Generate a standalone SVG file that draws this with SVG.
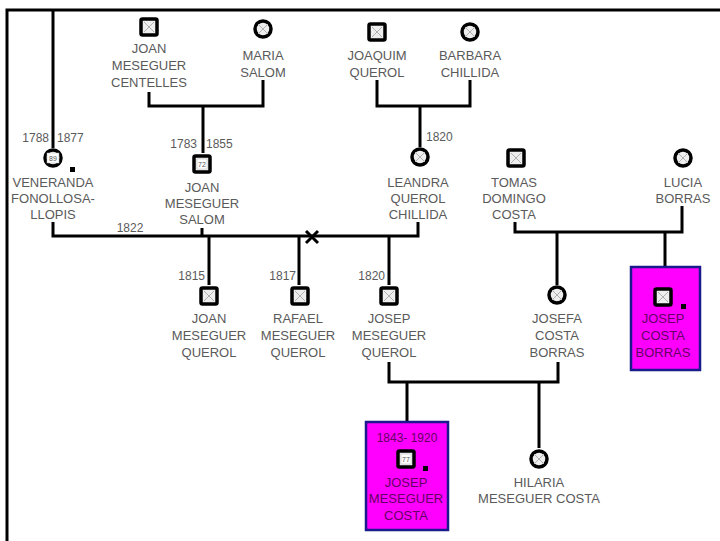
<svg xmlns="http://www.w3.org/2000/svg" width="720" height="541" viewBox="0 0 720 541">
<style>
.ln{stroke:#000;stroke-width:3;fill:none}
.sq{fill:#eee;stroke:#000;stroke-width:3.5}
.ci{fill:#eee;stroke:#000;stroke-width:3.5}
.x{stroke:#b0b0b0;stroke-width:1}
.t{font-family:"Liberation Sans",Arial,sans-serif;font-size:13px;fill:#5a5a5a;text-anchor:middle}
.d{font-family:"Liberation Sans",Arial,sans-serif;font-size:12px;fill:#5a5a5a}
.p{fill:#660066}
.box{fill:#ff00ff;stroke:#1a1a8c;stroke-width:2.5}
.num{font-family:"Liberation Sans",Arial,sans-serif;font-size:7px;fill:#555;text-anchor:middle}
</style>
<defs>
<g id="sqx"><rect class="sq" x="-8" y="-8" width="16" height="16" rx="1.5"/><path class="x" d="M-5,-5 L5,5 M5,-5 L-5,5"/></g>
<g id="cix"><circle class="ci" r="8"/><path class="x" d="M-5,-5 L5,5 M5,-5 L-5,5"/></g>
</defs>
<rect width="720" height="541" fill="#fff"/>
<g id="connectors">
<path class="ln" d="M7,541 V10 H720"/>
<path class="ln" d="M53,10 V148"/>
<path class="ln" d="M149,92 V106 H263 V80 M203,106 V153"/>
<path class="ln" d="M377,80 V106 H470 V80 M420,106 V147"/>
<path class="ln" d="M53,222 V236 H418 V222 M202,228 V236 M209,236 V285 M299,236 V285 M389,236 V285"/>
<path class="ln" d="M306,231 L318,243 M318,231 L306,243"/>
<path class="ln" d="M389,362 V382 H558 V362 M407,382 V422 M539,382 V448"/>
<path class="ln" d="M515,222 V232 H682 V206 M557,232 V285 M665,232 V267"/>
<text class="d" x="130" y="232" text-anchor="middle">1822</text>
</g>
<g id="joan-meseguer-centelles">
<use href="#sqx" x="149" y="27"/>
<text class="t" x="149" y="53">JOAN</text><text class="t" x="149" y="70">MESEGUER</text><text class="t" x="149" y="87">CENTELLES</text>
</g>
<g id="maria-salom">
<use href="#cix" x="263" y="29"/>
<text class="t" x="263" y="60">MARIA</text><text class="t" x="263" y="77">SALOM</text>
</g>
<g id="joaquim-querol">
<use href="#sqx" x="377" y="32"/>
<text class="t" x="377" y="60">JOAQUIM</text><text class="t" x="377" y="77">QUEROL</text>
</g>
<g id="barbara-chillida">
<use href="#cix" x="470" y="32"/>
<text class="t" x="470" y="60">BARBARA</text><text class="t" x="470" y="77">CHILLIDA</text>
</g>
<g id="veneranda-fonollosa-llopis">
<text class="d" x="49" y="142" text-anchor="end">1788</text><text class="d" x="57" y="142">1877</text>
<circle class="ci" cx="53" cy="158" r="8"/>
<rect x="47" y="153" width="12" height="10" fill="#fff" stroke="#bbb" stroke-width="0.5"/>
<text class="num" x="53" y="161">89</text>
<rect x="70" y="167" width="5" height="5" fill="#000"/>
<text class="t" x="53" y="187">VENERANDA</text><text class="t" x="53" y="203">FONOLLOSA-</text><text class="t" x="53" y="219">LLOPIS</text>
</g>
<g id="joan-meseguer-salom">
<text class="d" x="197" y="148" text-anchor="end">1783</text><text class="d" x="206" y="148">1855</text>
<rect class="sq" x="194" y="156" width="16" height="16" rx="1.5"/>
<rect x="197" y="159" width="10" height="10" fill="#fff" stroke="#bbb" stroke-width="0.5"/>
<text class="num" x="202" y="167">72</text>
<text class="t" x="202" y="192">JOAN</text><text class="t" x="202" y="208">MESEGUER</text><text class="t" x="202" y="224">SALOM</text>
</g>
<g id="leandra-querol-chillida">
<text class="d" x="426" y="141">1820</text>
<use href="#cix" x="420" y="157"/>
<text class="t" x="418" y="187">LEANDRA</text><text class="t" x="418" y="203">QUEROL</text><text class="t" x="418" y="219">CHILLIDA</text>
</g>
<g id="tomas-domingo-costa">
<use href="#sqx" x="516" y="158"/>
<text class="t" x="514" y="187">TOMAS</text><text class="t" x="514" y="203">DOMINGO</text><text class="t" x="514" y="219">COSTA</text>
</g>
<g id="lucia-borras">
<use href="#cix" x="683" y="158"/>
<text class="t" x="683" y="187">LUCIA</text><text class="t" x="683" y="203">BORRAS</text>
</g>
<g id="joan-meseguer-querol">
<text class="d" x="205" y="280" text-anchor="end">1815</text>
<use href="#sqx" x="209" y="296"/>
<text class="t" x="209" y="323">JOAN</text><text class="t" x="209" y="340">MESEGUER</text><text class="t" x="209" y="357">QUEROL</text>
</g>
<g id="rafael-meseguer-querol">
<text class="d" x="296" y="280" text-anchor="end">1817</text>
<use href="#sqx" x="300" y="296"/>
<text class="t" x="298" y="323">RAFAEL</text><text class="t" x="298" y="340">MESEGUER</text><text class="t" x="298" y="357">QUEROL</text>
</g>
<g id="josep-meseguer-querol">
<text class="d" x="385" y="280" text-anchor="end">1820</text>
<use href="#sqx" x="389" y="296"/>
<text class="t" x="389" y="323">JOSEP</text><text class="t" x="389" y="340">MESEGUER</text><text class="t" x="389" y="357">QUEROL</text>
</g>
<g id="josefa-costa-borras">
<use href="#cix" x="557" y="295"/>
<text class="t" x="557" y="323">JOSEFA</text><text class="t" x="557" y="340">COSTA</text><text class="t" x="557" y="357">BORRAS</text>
</g>
<g id="josep-costa-borras">
<rect class="box" x="631" y="267" width="69" height="103"/>
<use href="#sqx" x="663" y="297"/>
<rect x="681" y="304" width="5" height="5" fill="#000"/>
<text class="t p" x="663" y="323">JOSEP</text><text class="t p" x="663" y="340">COSTA</text><text class="t p" x="663" y="357">BORRAS</text>
</g>
<g id="josep-meseguer-costa">
<rect class="box" x="366" y="422" width="82" height="108"/>
<text class="d p" x="407" y="442" text-anchor="middle">1843- 1920</text>
<rect class="sq" x="398" y="451" width="16" height="16" rx="1.5"/>
<rect x="401" y="454" width="10" height="10" fill="#fff" stroke="#bbb" stroke-width="0.5"/>
<text class="num" x="406" y="462">77</text>
<rect x="423" y="466" width="5" height="5" fill="#000"/>
<text class="t p" x="406" y="487">JOSEP</text><text class="t p" x="406" y="503">MESEGUER</text><text class="t p" x="406" y="520">COSTA</text>
</g>
<g id="hilaria-meseguer-costa">
<use href="#cix" x="539" y="459"/>
<text class="t" x="539" y="487">HILARIA</text><text class="t" x="539" y="503">MESEGUER COSTA</text>
</g>
</svg>
